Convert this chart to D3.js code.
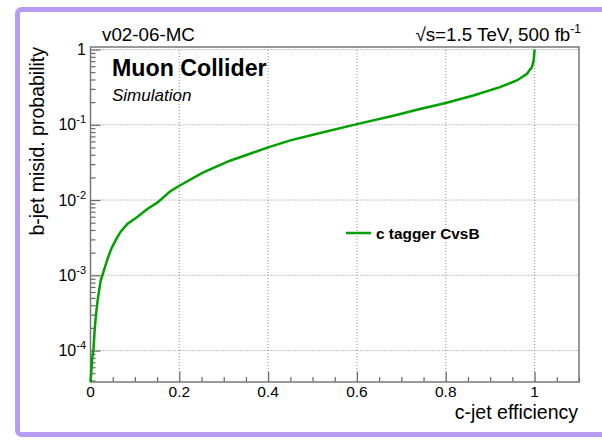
<!DOCTYPE html>
<html>
<head>
<meta charset="utf-8">
<script src="https://cdn.jsdelivr.net/npm/d3@7"></script>
<style>
  body { margin: 0; background: #fff; }
  svg { display: block; font-family: "Liberation Sans", Arial, sans-serif; }
</style>
</head>
<body>
<script>
(function() {

    var width = 602;
    var height = 441;

    // c-jet efficiency vs b-jet misid. probability
    const cEff = [0, 0.002, 0.004, 0.0065, 0.0097, 0.0133, 0.017, 0.023, 0.029, 0.0345,
                  0.040, 0.046, 0.057, 0.068, 0.083, 0.106, 0.128, 0.151, 0.179, 0.2,
                  0.254, 0.314, 0.4, 0.45, 0.51, 0.6, 0.682, 0.742, 0.8, 0.862,
                  0.922, 0.96, 0.983, 0.994, 0.998, 1.0];
    const bMisid = [3.8e-5, 5.4e-5, 8.2e-5, 1.0e-4, 2.0e-4, 3.4e-4, 5.1e-4, 8.5e-4, 1.1e-3, 1.4e-3,
                    1.75e-3, 2.2e-3, 2.95e-3, 3.8e-3, 4.8e-3, 6.0e-3, 7.6e-3, 9.3e-3, 0.0130, 0.0155,
                    0.0233, 0.0333, 0.050, 0.062, 0.076, 0.102, 0.132, 0.162, 0.195, 0.245,
                    0.316, 0.388, 0.477, 0.585, 0.72, 1.0];

    // tick labels
    const xTicks = [0, 0.2, 0.4, 0.6, 0.8, 1];
    const xTickLabels = ["0", "0.2", "0.4", "0.6", "0.8", "1"];
    const yTicks = [1, 1e-1, 1e-2, 1e-3, 1e-4];
    const yTickExps = ["", "-1", "-2", "-3", "-4"];

    const points = cEff.map((e, i) => ({x: e, y: bMisid[i]}));

    //plot frame
    const left = 90.5, right = 579, top = 47, bottom = 382;

    const x = d3.scaleLinear().domain([0, 1.1]).range([left, right]);
    const y = d3.scaleLog().domain([3.82e-5, 1.08]).range([bottom, top]);

    const svg = d3.select("body")
      .append("svg")
      .attr("width", width)
      .attr("height", height);

    //purple canvas border
    svg.append("rect")
        .attr("x", 17.5).attr("y", 9.5)
        .attr("width", 620).attr("height", 425)
        .attr("rx", 4)
        .style("fill", "#fff")
        .style("stroke", "#b89cf4")
        .style("stroke-width", 5);

    //grid
    const grid = svg.append("g").style("stroke", "#8a8a8a").style("stroke-dasharray", "1,2").style("stroke-width", 1);
    grid.selectAll("line.gx")
        .data(xTicks.slice(1))
        .join("line")
        .attr("x1", d => x(d)).attr("x2", d => x(d))
        .attr("y1", top).attr("y2", bottom);
    grid.selectAll("line.gy")
        .data(yTicks)
        .join("line")
        .attr("y1", d => y(d)).attr("y2", d => y(d))
        .attr("x1", left).attr("x2", right);

    //minor ticks
    const xMinor = d3.range(0, 23).map(i => i * 0.05).filter(v => Math.round(v * 100) % 20 !== 0);
    const yMinor = [];
    for (let k = -5; k < 0; k++) {
        for (let m = 2; m <= 9; m++) {
            const v = m * Math.pow(10, k);
            if (v > 3.82e-5 && v < 1.08) yMinor.push(v);
        }
    }

    svg.append("g")
        .attr("transform", "translate(0," + bottom + ")")
        .call(d3.axisBottom(x).tickValues(xMinor).tickSize(-5).tickFormat(""))
        .call(g => g.select(".domain").remove());
    svg.append("g")
        .attr("transform", "translate(0," + bottom + ")")
        .call(d3.axisBottom(x).tickValues(xTicks).tickSize(-10).tickFormat(""))
        .call(g => g.select(".domain").remove());
    svg.append("g")
        .attr("transform", "translate(" + left + ",0)")
        .call(d3.axisLeft(y).tickValues(yMinor).tickSize(-5).tickFormat(""))
        .call(g => g.select(".domain").remove());
    svg.append("g")
        .attr("transform", "translate(" + left + ",0)")
        .call(d3.axisLeft(y).tickValues(yTicks).tickSize(-10).tickFormat(""))
        .call(g => g.select(".domain").remove());
    svg.selectAll(".tick line").style("stroke", "#666").style("stroke-width", 1.2);

    //frame
    svg.append("rect")
        .attr("x", left).attr("y", top)
        .attr("width", right - left).attr("height", bottom - top)
        .style("fill", "none")
        .style("stroke", "#777")
        .style("stroke-width", 1.5);

    //x tick labels
    svg.selectAll("text.xl")
        .data(xTicks)
        .join("text")
        .attr("x", d => x(d))
        .attr("y", 397)
        .attr("text-anchor", "middle")
        .style("font-size", "15.5px")
        .text((d, i) => xTickLabels[i]);

    //y tick labels
    const yl = svg.selectAll("text.yl")
        .data(yTicks)
        .join("text")
        .attr("x", 86)
        .attr("y", d => y(d) + 5.5)
        .attr("text-anchor", "end")
        .style("font-size", "16px");
    yl.each(function(d, i) {
        const t = d3.select(this);
        if (yTickExps[i] === "") {
            t.text("1");
        } else {
            t.append("tspan").text("10");
            t.append("tspan").attr("dy", -7).style("font-size", "11px").text(yTickExps[i]);
        }
    });

    //curve
    svg.append("path")
        .datum(points)
        .attr("d", d3.line().x(d => x(d.x)).y(d => y(d.y)))
        .style("fill", "none")
        .style("stroke", "#00a000")
        .style("stroke-width", 2.5);

    //axis titles
    svg.append("text")
        .attr("x", right - 1).attr("y", 419)
        .attr("text-anchor", "end")
        .style("font-size", "19.5px")
        .text("c-jet efficiency");
    svg.append("text")
        .attr("transform", "translate(44," + top + ") rotate(-90)")
        .attr("text-anchor", "end")
        .style("font-size", "19.5px")
        .text("b-jet misid. probability");

    //labels above the frame
    svg.append("text")
        .attr("x", 102).attr("y", 40.5)
        .style("font-size", "18.8px")
        .text("v02-06-MC");
    const lum = svg.append("text")
        .attr("x", 581).attr("y", 40.5)
        .attr("text-anchor", "end")
        .style("font-size", "18.8px");
    lum.append("tspan").text("\u221As=1.5 TeV, 500 fb");
    lum.append("tspan").attr("dy", -8).style("font-size", "12px").text("-1");

    svg.append("text")
        .attr("x", 112).attr("y", 76)
        .style("font-size", "23.2px")
        .style("font-weight", "bold")
        .text("Muon Collider");
    svg.append("text")
        .attr("x", 112).attr("y", 101)
        .style("font-size", "17px")
        .style("font-style", "italic")
        .text("Simulation");

    //legend
    svg.append("line")
        .attr("x1", 346).attr("x2", 371)
        .attr("y1", 233).attr("y2", 233)
        .style("stroke", "#00a000")
        .style("stroke-width", 2.5);
    svg.append("text")
        .attr("x", 376).attr("y", 238.5)
        .style("font-size", "15.4px")
        .style("font-weight", "bold")
        .text("c tagger CvsB");

})();
</script>
</body>
</html>
